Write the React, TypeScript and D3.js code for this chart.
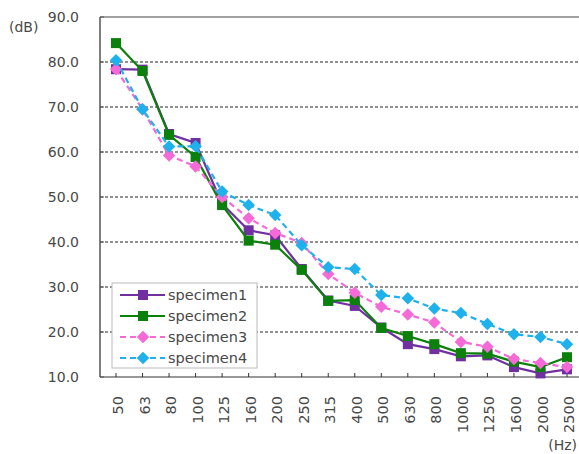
import * as d3 from "d3";

const W = 579;
const H = 454;
const LEFT = 100;
const TOP = 17;
const BOTTOM = 377;

const FREQS = ["50", "63", "80", "100", "125", "160", "200", "250", "315", "400", "500", "630", "800", "1000", "1250", "1600", "2000", "2500"];
const Y_TICKS = [10, 20, 30, 40, 50, 60, 70, 80, 90];

const SPECIMEN1 = [78.4, 78.3, 64, 62, 48.5, 42.6, 41.5, 34, 27, 25.8, 21, 17.3, 16.2, 14.6, 14.8, 12.2, 10.8, 11.7];
const SPECIMEN2 = [84.2, 78, 63.8, 58.9, 48.2, 40.3, 39.4, 33.8, 26.9, 27.1, 20.9, 19.1, 17.3, 15.3, 15.2, 13.4, 12.2, 14.4];
const SPECIMEN3 = [78.4, 69.5, 59.2, 56.8, 50, 45.3, 42, 39.8, 32.9, 28.7, 25.6, 23.9, 22.1, 17.8, 16.7, 14, 13.1, 12.2];
const SPECIMEN4 = [80.4, 69.5, 61.2, 61.3, 51.2, 48.2, 46, 39.3, 34.4, 34, 28.2, 27.5, 25.2, 24.2, 21.8, 19.5, 18.9, 17.3];

const SERIES = [
  { name: "specimen1", values: SPECIMEN1, color: "#7030a0", dash: "", marker: "square" },
  { name: "specimen2", values: SPECIMEN2, color: "#0b800b", dash: "", marker: "square" },
  { name: "specimen3", values: SPECIMEN3, color: "#f56ad6", dash: "6,4", marker: "diamond" },
  { name: "specimen4", values: SPECIMEN4, color: "#1fb1ec", dash: "6,4", marker: "diamond" },
];

const FONT = "'DejaVu Sans', sans-serif";

const Marker = ({ type, x, y, color }: { type: string; x: number; y: number; color: string }) => {
  if (type === "square") {
    return <rect x={x - 5} y={y - 5} width={10} height={10} fill={color} />;
  }
  const s = d3.symbol().type(d3.symbolDiamond2).size(100)();
  return <path d={s!} transform={`translate(${x},${y})`} fill={color} />;
};

export default function App() {
  const x = d3.scalePoint<string>().domain(FREQS).range([116, 567]);
  const y = d3.scaleLinear().domain([10, 90]).range([BOTTOM, TOP]);

  const line = d3
    .line<number>()
    .x((_, i) => x(FREQS[i])!)
    .y((d) => y(d));

  return (
    <svg width={W} height={H} style={{ position: "absolute", left: 0, top: 0, background: "#fff" }} fontFamily={FONT}>
      {/* gridlines */}
      {Y_TICKS.filter((t) => t > 10 && t < 90).map((t) => (
        <line key={t} x1={LEFT} x2={W} y1={y(t)} y2={y(t)} stroke="#222" strokeWidth={1} strokeDasharray="3,2" />
      ))}
      <line x1={LEFT} x2={W} y1={y(90)} y2={y(90)} stroke="#444" strokeWidth={1} />
      {/* axes */}
      <line x1={LEFT} x2={LEFT} y1={TOP} y2={BOTTOM} stroke="#555" strokeWidth={1.5} />
      <line x1={LEFT} x2={W} y1={BOTTOM} y2={BOTTOM} stroke="#333" strokeWidth={1.2} />
      {Y_TICKS.map((t) => (
        <line key={t} x1={LEFT} x2={LEFT + 4} y1={y(t)} y2={y(t)} stroke="#555" />
      ))}
      {FREQS.map((f) => (
        <line key={f} x1={x(f)!} x2={x(f)!} y1={BOTTOM} y2={BOTTOM - 4} stroke="#333" />
      ))}
      {/* y labels */}
      {Y_TICKS.map((t) => (
        <text key={t} x={79} y={y(t)} dy="0.35em" textAnchor="end" fontSize={14} fill="#484848">
          {t.toFixed(1)}
        </text>
      ))}
      <text x={9} y={32} fontSize={14} fill="#484848">(dB)</text>
      {/* x labels */}
      {FREQS.map((f) => (
        <text
          key={f}
          transform={`translate(${x(f)! + 2},396) rotate(-90)`}
          textAnchor="end"
          dy="0.35em"
          fontSize={14.5}
          fill="#484848"
        >
          {f}
        </text>
      ))}
      <text x={577} y={450} textAnchor="end" fontSize={14} fill="#484848">(Hz)</text>
      {/* series */}
      {SERIES.map((s) => (
        <g key={s.name}>
          <path d={line(s.values)!} fill="none" stroke={s.color} strokeWidth={2.2} strokeDasharray={s.dash} />
          {s.values.map((v, i) => (
            <Marker key={i} type={s.marker} x={x(FREQS[i])!} y={y(v)} color={s.color} />
          ))}
        </g>
      ))}
      {/* legend */}
      <rect x={112} y={283} width={145} height={85} fill="#fff" stroke="#bbb" strokeWidth={1} />
      {SERIES.map((s, i) => {
        const ly = 295 + i * 21;
        return (
          <g key={s.name}>
            <line x1={120} x2={165} y1={ly} y2={ly} stroke={s.color} strokeWidth={2.2} strokeDasharray={s.dash} />
            <Marker type={s.marker} x={143} y={ly} color={s.color} />
            <text x={168} y={ly} dy="0.35em" fontSize={14.5} fill="#484848">{s.name}</text>
          </g>
        );
      })}
    </svg>
  );
}
